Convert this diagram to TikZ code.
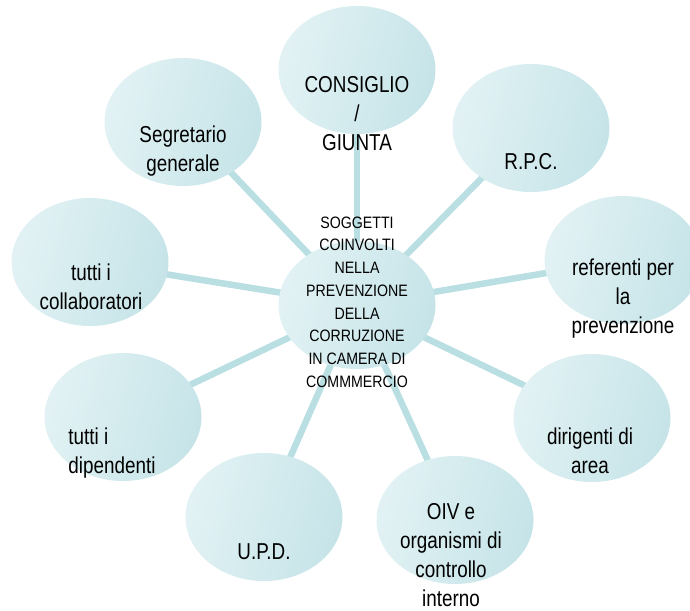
\documentclass[tikz,border=0pt]{standalone}
\usepackage{fontspec}
\setmainfont{Liberation Sans}[FakeStretch=0.82]
\usetikzlibrary{positioning,backgrounds,shapes.geometric}
\definecolor{blobL}{RGB}{226,242,244}
\definecolor{blobR}{RGB}{198,228,232}
\definecolor{spoke}{RGB}{186,223,227}

\begin{document}
\begin{tikzpicture}[x=1pt,y=-1pt,
  blob/.style={ellipse,minimum width=157pt,minimum height=128pt,inner sep=0pt,
    left color=blobL,right color=blobR,shading angle=75},
  txt/.style={align=center,font=\fontsize{23}{29}\selectfont,inner sep=0pt},
  hub/.style={align=center,font=\fontsize{16.5}{22.7}\selectfont\addfontfeature{FakeStretch=0.86},inner sep=0pt},
  conn/.style={draw=spoke,line width=6.5pt}]
\clip (0,0) rectangle (690,610);
\node[blob] (hub) at (357,305) {};
\node[blob] (cons) at (357,70) {};
\node[blob] (rpc) at (531,128) {};
\node[blob] (ref) at (623,260) {};
\node[blob] (dir) at (592,418) {};
\node[blob] (oiv) at (455,520) {};
\node[blob] (upd) at (264,517) {};
\node[blob] (dip) at (123,417) {};
\node[blob] (coll) at (90,262) {};
\node[blob] (segr) at (183,122) {};
\begin{scope}[on background layer]
\foreach \n in {cons,rpc,ref,dir,oiv,upd,dip,coll,segr}
  \draw[conn] (hub.center) -- (\n.center);
\end{scope}
% testi
\node[hub] (hub-t) at (357,302) {SOGGETTI\\COINVOLTI\\NELLA\\PREVENZIONE\\DELLA\\CORRUZIONE\\IN CAMERA DI\\COMMMERCIO};
\node[txt] (cons-t) at (357,114) {CONSIGLIO\\/\\GIUNTA};
\node[txt] (rpc-t) at (531,162) {R.P.C.};
\node[txt] (ref-t) at (623,299) {referenti per\\la\\prevenzione};
\node[txt] (dir-t) at (590,451) {dirigenti di\\area};
\node[txt] (oiv-t) at (451,555) {OIV e\\organismi di\\controllo\\interno};
\node[txt] (upd-t) at (264,552) {U.P.D.};
\node[txt,align=left] (dip-t) at (112,453) {tutti i\\dipendenti};
\node[txt] (coll-t) at (91,287) {tutti i\\collaboratori};
\node[txt] (segr-t) at (183,151) {Segretario\\generale};
\end{tikzpicture}
\end{document}
